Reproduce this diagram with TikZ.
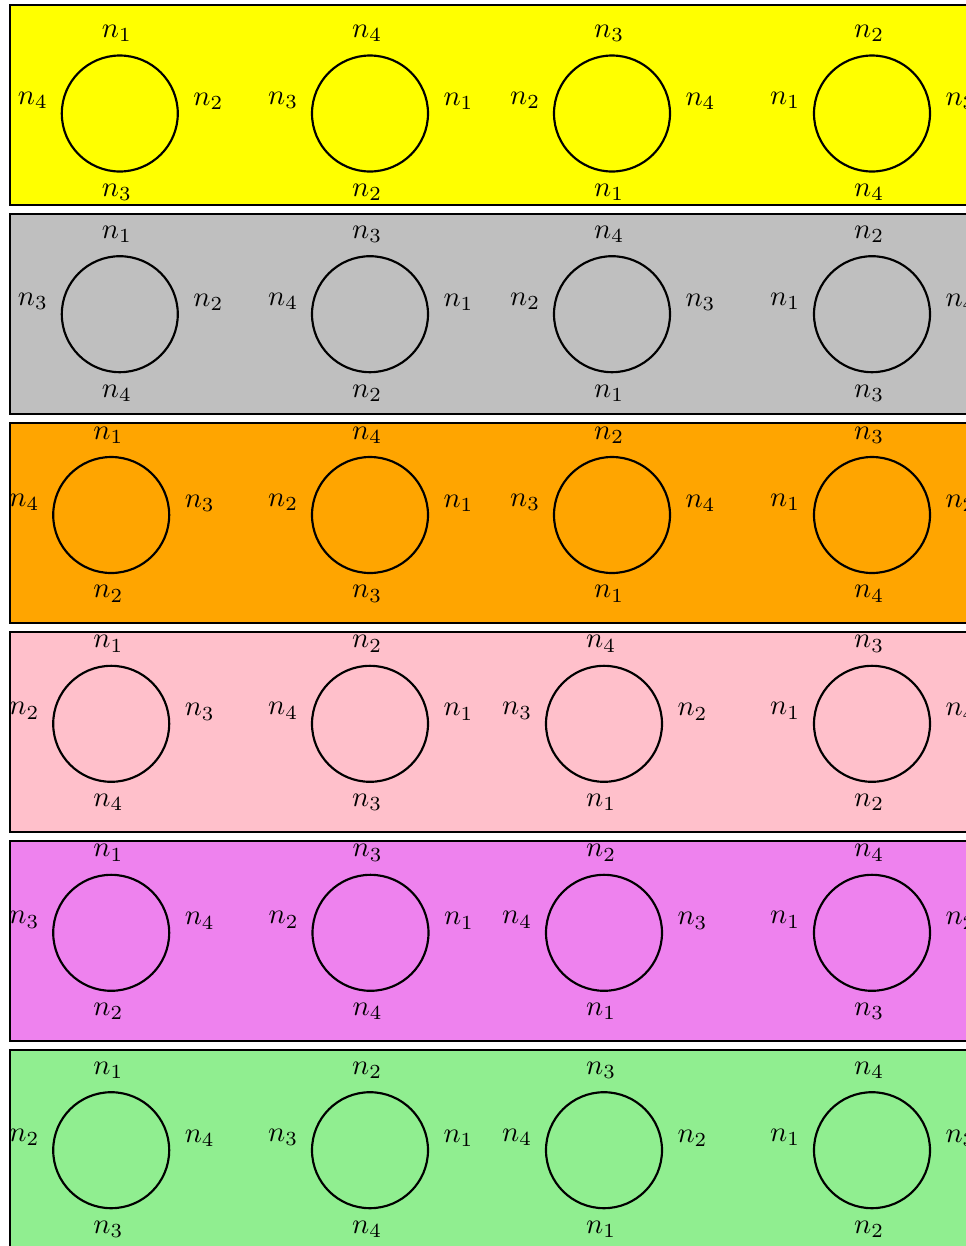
\documentclass[tikz,border=0pt]{standalone}
\usetikzlibrary{positioning}
\definecolor{bandyellow}{RGB}{255,255,0}
\definecolor{bandgray}{RGB}{191,191,191}
\definecolor{bandorange}{RGB}{255,165,0}
\definecolor{bandpink}{RGB}{255,192,203}
\definecolor{bandviolet}{RGB}{238,130,238}
\definecolor{bandgreen}{RGB}{144,238,144}
\tikzset{
  bandbox/.style={draw=black, line width=0.75pt},
  ring/.style={circle, draw=black, line width=0.75pt, minimum size=40.6pt, inner sep=0pt},
  lbl/.style={inner sep=0pt, anchor=center}
}
\newcommand\ringcell[7]{%
  \node[ring] (#1) at (#2,#3) {};
  \node[lbl] (#1t) at ([xshift=-1.0pt,yshift=28pt]#1.center) {$n_{#4}$};
  \node[lbl] (#1l) at ([xshift=-30.4pt,yshift=4.5pt]#1.center) {$n_{#5}$};
  \node[lbl] (#1r) at ([xshift=31.0pt,yshift=4.2pt]#1.center) {$n_{#6}$};
  \node[lbl] (#1b) at ([xshift=-1.0pt,yshift=-27.6pt]#1.center) {$n_{#7}$};
}
\begin{document}
\begin{tikzpicture}[x=0.35pt,y=-0.35pt]
\useasboundingbox (0,0) rectangle (966,1246);
\clip (0,0) rectangle (966,1246);
% bands
\path[bandbox, fill=bandyellow] (10,5) rectangle (1010,205);
\path[bandbox, fill=bandgray] (10,214) rectangle (1010,414);
\path[bandbox, fill=bandorange] (10,423) rectangle (1010,623);
\path[bandbox, fill=bandpink] (10,632) rectangle (1010,832);
\path[bandbox, fill=bandviolet] (10,841) rectangle (1010,1041);
\path[bandbox, fill=bandgreen] (10,1050) rectangle (1010,1290);
% band 1
\ringcell{a1}{119.8}{113.5}{1}{4}{2}{3}
\ringcell{a2}{370}{113.5}{4}{3}{1}{2}
\ringcell{a3}{612}{113.5}{3}{2}{4}{1}
\ringcell{a4}{872}{113.5}{2}{1}{3}{4}
% band 2
\ringcell{b1}{119.8}{314.2}{1}{3}{2}{4}
\ringcell{b2}{370}{314.2}{3}{4}{1}{2}
\ringcell{b3}{612}{314.2}{4}{2}{3}{1}
\ringcell{b4}{872}{314.2}{2}{1}{4}{3}
% band 3
\ringcell{c1}{111.2}{515}{1}{4}{3}{2}
\ringcell{c2}{370}{515}{4}{2}{1}{3}
\ringcell{c3}{612}{515}{2}{3}{4}{1}
\ringcell{c4}{872}{515}{3}{1}{2}{4}
% band 4
\ringcell{d1}{111.2}{723.8}{1}{2}{3}{4}
\ringcell{d2}{370}{723.8}{2}{4}{1}{3}
\ringcell{d3}{604}{723.8}{4}{3}{2}{1}
\ringcell{d4}{872}{723.8}{3}{1}{4}{2}
% band 5
\ringcell{e1}{111.2}{932.8}{1}{3}{4}{2}
\ringcell{e2}{370.5}{932.8}{3}{2}{1}{4}
\ringcell{e3}{604}{932.8}{2}{4}{3}{1}
\ringcell{e4}{872}{932.8}{4}{1}{2}{3}
% band 6
\ringcell{f1}{111.2}{1150.2}{1}{2}{4}{3}
\ringcell{f2}{370}{1150.2}{2}{3}{1}{4}
\ringcell{f3}{604}{1150.2}{3}{4}{2}{1}
\ringcell{f4}{872}{1150.2}{4}{1}{3}{2}
\end{tikzpicture}
\end{document}
